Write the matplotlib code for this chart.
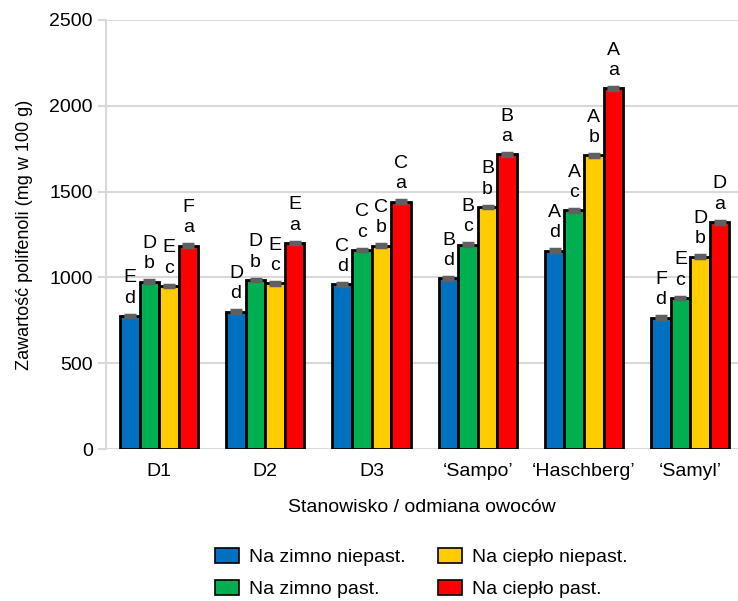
import numpy as np
import matplotlib
matplotlib.use("Agg")
import matplotlib.pyplot as plt

plt.rcParams['font.family'] = ['Liberation Sans', 'DejaVu Sans']

categories = ["D1", "D2", "D3", "\u2018Sampo\u2019", "\u2018Haschberg\u2019", "\u2018Samyl\u2019"]
series = ["Na zimno niepast.", "Na zimno past.", "Na ciepło niepast.", "Na ciepło past."]
colors = ["#0070C0", "#00B050", "#FFCC00", "#FF0000"]

zimno_niepast = [775, 800, 960, 995, 1155, 765]
zimno_past = [975, 985, 1160, 1190, 1390, 880]
cieplo_niepast = [950, 965, 1185, 1410, 1712, 1120]
cieplo_past = [1185, 1200, 1442, 1718, 2102, 1322]
values = [zimno_niepast, zimno_past, cieplo_niepast, cieplo_past]

errors = [[8, 8, 8, 8, 8, 8]] * 4

upper = [["E", "D", "C", "B", "A", "F"],
         ["D", "D", "C", "B", "A", "E"],
         ["E", "E", "C", "B", "A", "D"],
         ["F", "E", "C", "B", "A", "D"]]
lower = [["d", "d", "d", "d", "d", "d"],
         ["b", "b", "c", "c", "c", "c"],
         ["c", "c", "b", "b", "b", "b"],
         ["a", "a", "a", "a", "a", "a"]]

fig = plt.figure(figsize=(7.38, 6.01), dpi=100)
ax = fig.add_axes([106 / 738, 1 - 449 / 601, 632 / 738, 429 / 601])

x = np.arange(len(categories))
w = 0.184
for i in range(4):
    pos = x + (i - 1.5) * w
    ax.bar(pos, values[i], w, color=colors[i], edgecolor="black", linewidth=2,
           label=series[i], zorder=3)
    ax.errorbar(pos, values[i], yerr=errors[i], fmt="none", ecolor="#606060",
                elinewidth=2, capsize=4, capthick=2.5, zorder=4)
    for j in range(len(categories)):
        ax.text(pos[j], values[i][j] + 55, upper[i][j] + "\n" + lower[i][j],
                ha="center", va="bottom", fontsize=14, linespacing=1.25, zorder=5)

ax.set_xlim(-0.5, 5.45)
ax.set_ylim(0, 2500)
ax.set_yticks(range(0, 2501, 500))
ax.set_xticks(x)
ax.set_xticklabels(categories, fontsize=14)
ax.tick_params(axis="y", labelsize=14, color="#d9d9d9", length=6, width=1.5)
ax.tick_params(axis="x", length=0, pad=10)
ax.grid(axis="y", color="#d9d9d9", linewidth=1.5, zorder=0)
for s in ["top", "right", "bottom"]:
    ax.spines[s].set_visible(False)
ax.spines["left"].set_color("#d9d9d9")
ax.spines["left"].set_linewidth(1.5)

ax.set_ylabel("Zawartość polifenoli (mg w 100 g)", fontsize=13, labelpad=12)
ax.set_xlabel("Stanowisko / odmiana owoców", fontsize=14, labelpad=14)

handles, labels = ax.get_legend_handles_labels()
leg = fig.legend(handles, labels,
                 loc="center", bbox_to_anchor=(421 / 738, 1 - 573 / 601), ncol=2,
                 frameon=False, fontsize=14, handlelength=1.25, handleheight=0.85,
                 columnspacing=1.65, handletextpad=0.5, labelspacing=0.7)
for p in leg.get_patches():
    p.set_linewidth(1.2)

fig.savefig("out.png", dpi=100)
